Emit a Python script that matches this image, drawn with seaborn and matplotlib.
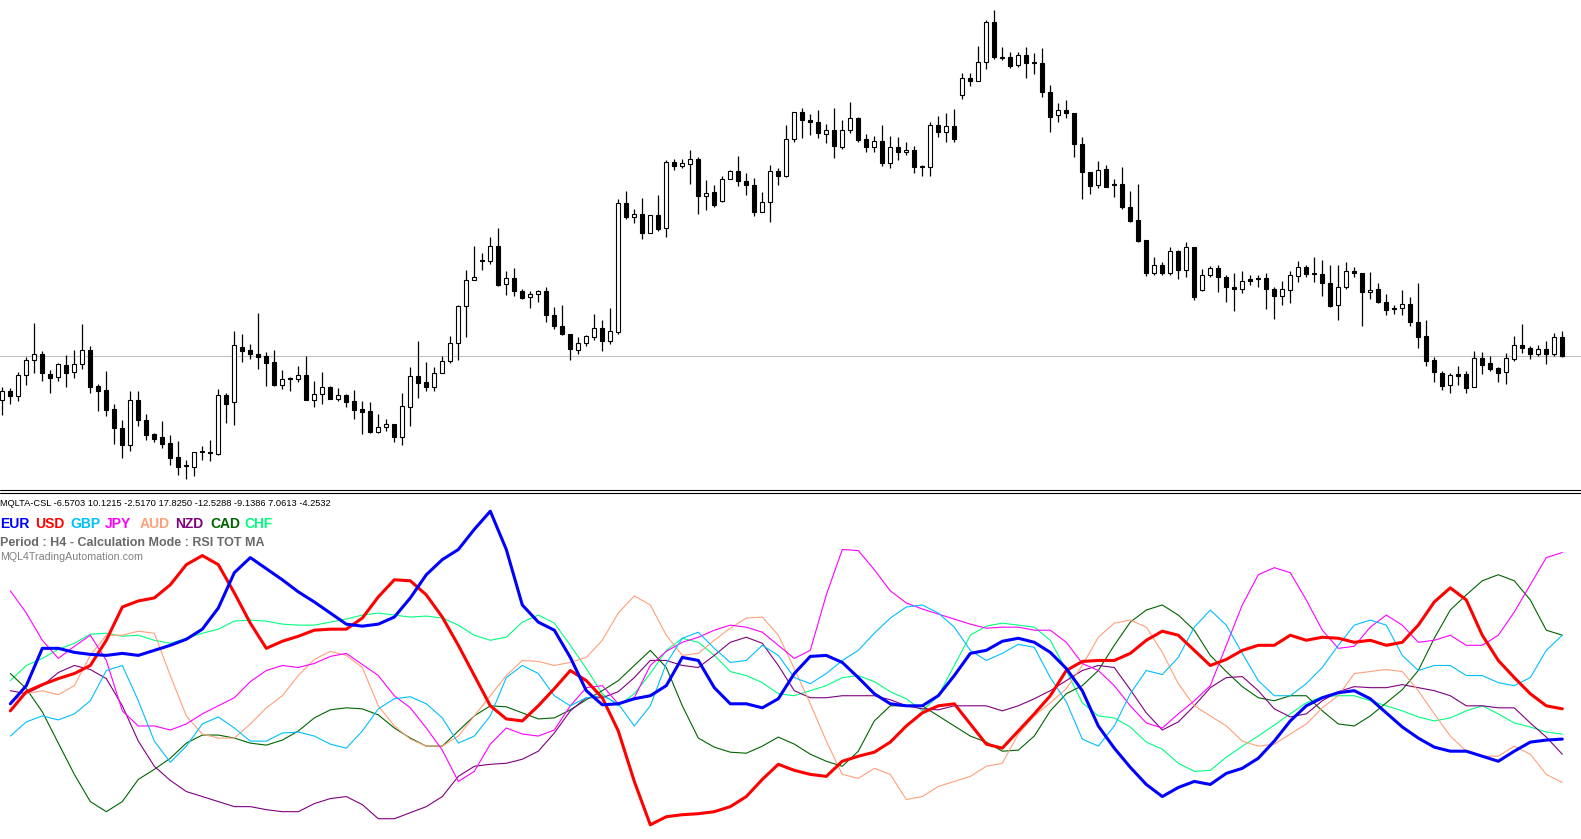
import numpy as np
import pandas as pd
import matplotlib
matplotlib.use("Agg")
import matplotlib.pyplot as plt
from matplotlib.lines import Line2D
import seaborn as sns

# ---------------- price candles (H4), arbitrary price units ----------------
opens = [100,109,104,125,140,146,126,123,135,128,
         136,150,114,110,91,72,55,100,80,66,
         63,57,43,35,33,48,47,46,105,98,
         153,150,146,144,138,115,122,121,125,100,
         106,113,101,105,99,91,89,68,73,76,
         63,93,124,118,113,127,139,157,194,220,
         239,239,254,216,222,209,203,206,209,185,
         174,166,150,157,163,172,159,168,297,283,
         286,267,285,272,338,334,336,341,304,308,
         299,321,329,319,315,288,298,329,324,361,
         388,380,378,366,370,353,370,382,361,353,
         359,337,353,348,350,333,333,375,368,374,
         405,422,419,438,478,443,443,435,445,437,
         437,408,385,390,387,356,328,315,331,315,
         316,293,280,260,227,235,227,249,230,253,
         210,225,232,223,213,211,221,222,222,211,
         204,210,224,233,226,226,217,195,213,229,
         227,208,211,198,192,192,196,178,164,140,
         127,115,126,126,113,142,137,132,128,141,
         155,152,146,151,146,163]
highs = [113,112,128,143,177,149,130,137,145,150,
         176,154,116,129,96,80,109,109,86,67,
         79,65,59,40,48,54,60,111,107,169,
         166,156,187,148,150,130,123,134,144,119,
         128,114,112,106,110,99,98,86,81,76,
         107,133,159,138,133,144,164,195,230,254,
         247,263,272,229,232,211,209,210,213,193,
         195,166,163,165,186,180,192,301,309,291,
         302,285,305,340,341,341,350,343,320,315,
         324,330,344,327,322,308,335,332,375,388,
         392,386,390,376,392,380,398,383,366,364,
         375,364,363,358,354,335,378,384,387,391,
         427,427,454,480,490,453,448,448,453,447,
         452,415,397,400,387,363,328,339,335,321,
         333,309,316,260,243,238,253,250,258,253,
         231,234,235,225,227,229,225,225,227,213,
         219,229,239,235,243,240,235,235,238,233,
         227,228,217,206,195,210,203,217,180,143,
         129,127,134,129,149,148,144,133,147,164,
         176,154,155,159,167,169]
lows = [85,96,99,115,127,119,107,119,113,122,
        131,107,89,84,56,42,49,74,60,58,
        52,35,25,21,24,40,39,45,77,75,
        138,141,131,114,114,111,109,118,100,93,
        96,101,99,93,81,66,67,67,69,58,
        55,74,102,109,109,127,137,140,163,220,
        230,236,214,205,204,201,192,198,178,171,
        165,140,146,154,160,149,156,166,281,277,
        261,267,269,263,330,332,316,286,290,293,
        298,321,314,305,284,288,278,315,323,358,
        362,365,362,357,342,351,367,358,348,348,
        334,332,340,345,327,324,324,363,358,358,
        401,414,419,431,441,440,432,433,422,426,
        403,368,378,382,343,301,306,312,313,303,
        291,278,258,224,225,225,225,221,223,200,
        209,223,208,198,189,207,215,213,191,181,
        195,197,218,223,218,204,193,180,211,223,
        174,201,197,185,186,185,174,152,134,118,
        110,107,115,107,113,126,129,118,116,139,
        147,141,144,136,144,143]
closes = [109,104,125,140,146,127,122,136,127,136,
          150,113,109,90,72,55,100,80,65,61,
          56,42,33,34,48,48.5,47.5,105,96,155,
          149,146,143,137,115,121,121,125,100,106,
          113,101,105,98,90,88,68,73,76,63,
          94,124,117,113,127,139,157,194,220,223,
          239.5,254,215,222,209,202,206,209,185,174,
          166,151,157,164,172,159,169,297,283,286,
          267,285,271,338,334,337,341,304,307,295,
          321,329,319,315,288,298,329,324,361,388,
          380,378,367,370,354,370,382,360,353,359,
          337,353,348,350,333,333.5,375,368,374,361,
          422,419,438,478,443,442.5,434,445,437,437.5,
          408,383,390,387,356,328,314,330,313,315,
          293,279,259,227,235,227,249,230,253,203,
          225,232,223,213,211,219,219,221,211,204,
          211,225,233,226,226.5,217,194,213,229,227,
          208,210,198,190,191,196,178,163,139,128,
          114,125,124,112,142,135,131,127,142,155,
          152,146,151,146,163,144]

# ---------------- currency strength indicator (sampled every 2 bars) ----------------
sample_bars = list(range(1, 196, 2))
currencies = ["EUR", "USD", "GBP", "JPY", "AUD", "NZD", "CAD", "CHF"]
eur = [-1.8,0.0,3.7,3.7,3.3,3.1,3.0,3.2,3.0,3.5,
       4.0,4.6,5.6,7.7,11.2,12.7,11.6,10.5,9.3,8.3,
       7.2,6.1,5.9,6.1,6.8,8.7,11.0,12.5,13.5,15.5,
       17.3,13.5,8.0,6.3,5.5,2.8,-0.5,-1.9,-1.8,-1.3,
       -1.0,0.0,2.8,2.5,-0.2,-1.8,-1.8,-2.2,-1.3,1.2,
       2.9,3.0,2.3,0.8,-0.8,-1.8,-2.0,-2.0,-1.0,1.0,
       3.2,3.5,4.4,4.7,4.3,3.3,1.7,-0.5,-4.0,-6.2,
       -8.1,-9.8,-11.0,-10.1,-9.5,-9.8,-8.7,-8.2,-7.2,-5.5,
       -3.5,-2.0,-1.2,-0.7,-0.5,-1.3,-2.7,-4.1,-5.2,-6.1,
       -6.5,-6.5,-7.0,-7.5,-6.5,-5.6,-5.4,-5.3]
usd = [-2.5,-0.6,0.1,0.7,1.2,2.0,4.5,7.8,8.4,8.7,
       10.0,12.0,12.9,12.0,9.2,6.2,3.7,4.4,4.9,5.5,
       5.6,5.6,6.7,8.8,10.5,10.4,9.0,6.8,4.0,1.0,
       -2.0,-3.3,-3.5,-2.0,-0.3,1.5,0.5,-1.2,-4.5,-9.5,
       -13.8,-13.0,-12.8,-12.7,-12.5,-12.0,-11.0,-9.3,-7.8,-8.4,
       -8.8,-9.0,-7.5,-7.0,-6.6,-5.6,-4.0,-2.7,-2.0,-1.8,
       -3.8,-5.8,-6.2,-4.5,-2.8,-1.0,1.5,2.4,2.5,2.5,
       3.2,4.5,5.4,5.0,3.5,2.0,2.6,3.5,4.0,4.0,
       5.0,4.5,4.8,4.7,4.3,4.5,4.0,4.3,6.0,8.3,
       9.7,8.5,5.0,2.5,0.8,-0.8,-2.0,-2.3]
gbp = [-5.0,-3.6,-3.0,-3.4,-2.8,-1.5,1.5,2.0,-1.5,-5.5,
       -7.6,-6.0,-3.8,-3.1,-4.2,-5.5,-5.5,-4.7,-4.6,-5.0,
       -5.8,-6.2,-4.5,-2.3,-1.3,-1.1,-1.8,-3.2,-5.7,-5.0,
       -3.0,0.8,2.0,1.2,-1.0,-2.0,-1.2,-1.0,-1.8,-4.0,
       -2.0,2.2,4.7,5.3,3.7,2.3,2.5,4.0,3.0,0.8,
       0.2,1.2,2.5,3.5,5.2,6.7,7.8,8.0,7.2,5.8,
       3.5,2.5,3.2,4.1,3.8,0.8,-1.6,-5.3,-6.0,-4.0,
       -0.8,1.5,1.1,2.8,5.8,7.5,6.0,3.2,0.5,-1.0,
       -1.0,0.2,1.8,4.0,6.0,6.5,6.0,3.0,1.5,2.0,
       2.0,1.0,1.0,0.3,0.0,0.8,3.5,5.0]
jpy = [9.4,7.2,4.5,2.7,3.9,5.0,2.5,-2.5,-4.0,-4.0,
       -4.4,-3.8,-2.8,-2.0,-1.2,0.4,1.5,2.0,1.8,2.2,
       2.9,3.2,2.1,1.0,-1.0,-2.2,-4.2,-6.4,-9.5,-8.5,
       -5.8,-4.2,-4.8,-5.0,-4.4,-2.0,-0.2,0.0,-1.8,-1.2,
       2.0,3.4,4.3,4.8,5.5,6.0,5.8,5.3,4.0,2.7,
       3.5,9.0,13.5,13.4,11.5,9.4,8.2,7.6,7.1,6.6,
       6.1,5.7,5.8,5.8,5.5,5.5,4.3,2.2,1.5,0.0,
       -2.0,-3.7,-4.2,-2.8,-1.5,0.0,4.0,8.0,11.0,11.7,
       11.2,8.5,5.5,3.7,3.9,5.8,7.0,6.0,4.3,4.5,
       5.0,4.0,4.0,5.0,7.3,10.0,12.7,13.2]
aud = [-1.6,-0.8,-0.5,-0.9,0.0,3.0,5.0,5.0,5.4,5.2,
       1.0,-3.0,-4.8,-5.2,-5.2,-3.8,-2.2,-1.0,1.0,2.6,
       3.4,3.0,1.8,-2.0,-4.0,-5.3,-6.0,-6.0,-5.0,-3.0,
       -1.0,1.0,2.5,2.4,2.0,2.3,2.8,4.5,7.2,8.9,
       8.0,5.0,3.0,3.2,4.5,5.7,6.7,6.8,5.0,1.7,
       -1.8,-5.5,-8.8,-9.2,-8.2,-8.8,-11.3,-11.0,-10.0,-9.5,
       -9.0,-8.0,-7.7,-4.8,-3.0,-1.7,-0.3,2.0,4.8,6.2,
       6.5,5.8,3.3,0.2,-2.0,-3.0,-4.0,-5.5,-6.0,-5.8,
       -4.8,-3.8,-2.2,-1.0,1.2,1.4,1.6,1.4,-0.5,-2.8,
       -5.0,-6.5,-7.0,-7.0,-6.0,-6.8,-8.8,-9.6]
nzd = [-0.5,-0.8,0.0,1.3,2.0,1.6,0.7,-2.0,-5.5,-8.0,
       -9.4,-10.5,-11.0,-11.5,-12.0,-12.0,-12.3,-12.5,-12.5,-11.7,
       -11.2,-11.0,-11.8,-13.2,-13.2,-12.6,-12.0,-11.0,-9.0,-8.0,
       -7.8,-7.7,-7.3,-6.5,-4.7,-2.5,-1.2,-1.2,-0.6,0.8,
       2.5,2.5,2.0,1.8,3.0,4.3,4.8,4.2,2.0,-0.5,
       -1.2,-1.2,-1.0,-1.0,-1.0,-1.4,-2.0,-2.3,-2.4,-2.0,
       -2.0,-2.0,-2.5,-2.0,-1.3,-0.5,0.5,1.5,2.0,1.8,
       -0.4,-2.7,-4.4,-3.6,-2.0,-0.2,0.8,0.9,-0.5,-2.3,
       -3.1,-2.8,-1.5,-0.6,-0.1,-0.2,-0.2,0.1,-0.2,-0.5,
       -1.0,-2.0,-2.0,-2.2,-2.2,-3.7,-5.1,-6.8]
cad = [1.2,-0.3,-2.6,-5.7,-8.8,-11.5,-12.5,-11.5,-9.3,-8.3,
       -7.2,-5.7,-4.9,-4.9,-5.2,-5.7,-5.9,-5.4,-4.5,-3.2,
       -2.4,-2.2,-2.3,-2.9,-4.2,-5.2,-6.0,-6.0,-4.5,-3.0,
       -2.0,-2.1,-2.7,-3.3,-3.2,-2.4,-1.4,-0.5,0.5,2.0,
       3.5,1.8,-2.0,-5.2,-6.1,-6.6,-6.7,-6.0,-5.1,-5.8,
       -6.8,-7.5,-8.0,-6.5,-3.5,-2.0,-2.0,-2.0,-3.0,-4.0,
       -5.0,-5.6,-6.5,-6.4,-5.0,-2.5,-0.8,0.0,1.5,4.0,
       6.3,7.5,8.0,7.0,5.5,3.0,1.4,-0.1,-1.2,-1.5,
       -1.0,-1.0,-2.5,-3.8,-4.0,-3.0,-1.7,-0.4,1.5,4.7,
       7.5,9.0,10.4,11.0,10.4,8.5,5.5,5.0]
chf = [0.5,2.0,2.7,3.6,4.2,5.1,5.2,4.9,5.0,4.5,
       4.2,4.7,5.2,5.6,6.4,6.5,6.4,6.1,6.0,6.0,
       6.3,6.6,7.0,7.2,7.0,6.8,6.9,6.7,6.0,5.0,
       4.5,4.8,6.3,7.0,6.2,4.0,1.7,-0.8,-2.0,-0.8,
       1.2,3.5,4.7,4.3,3.0,1.4,1.0,0.3,-0.8,-1.0,
       -0.5,0.0,0.8,1.0,0.4,-0.6,-1.3,-2.5,-1.0,2.0,
       5.0,5.9,6.2,6.0,5.8,4.5,1.5,-1.7,-3.0,-3.2,
       -4.1,-5.6,-6.3,-7.7,-8.5,-8.4,-7.1,-6.0,-5.0,-3.9,
       -2.8,-1.7,-1.1,-1.0,-1.0,-1.5,-2.0,-2.5,-3.1,-3.5,
       -3.2,-2.5,-2.0,-2.8,-3.7,-4.1,-4.6,-4.8]
header_values = ["-6.5703", "10.1215", "-2.5170", "17.8250",
                 "-12.5288", "-9.1386", "7.0613", "-4.2532"]
indicator_name = "MQLTA-CSL"
info_line = "Period : H4 - Calculation Mode : RSI TOT MA"
site_line = "MQL4TradingAutomation.com"

# ---------------- styling ----------------
cur_colors = {"EUR": "#0000FF", "USD": "#FF0000", "GBP": "#00BFFF", "JPY": "#FF00FF",
              "AUD": "#FFA07A", "NZD": "#800080", "CAD": "#006400", "CHF": "#00FF7F"}
cur_widths = {"EUR": 2.2, "USD": 2.2}

sns.set_style("white")
plt.rcParams["font.family"] = ["Liberation Sans", "DejaVu Sans"]

W, H = 1581, 839
fig = plt.figure(figsize=(W / 100, H / 100), dpi=100)
fig.patch.set_facecolor("white")

def fy(px):
    return 1 - px / H

top_bottom_px = 489.5
ax1 = fig.add_axes([0, fy(top_bottom_px), 1, top_bottom_px / H])
ax2 = fig.add_axes([0, 0, 1, fy(493)])

# candles
n = len(opens)
x = np.arange(n)
o = np.array(opens, float); c = np.array(closes, float)
hi = np.array(highs, float); lo = np.array(lows, float)
bull = c > o
body_lo = np.minimum(o, c)
body_h = np.maximum(np.abs(c - o), 0.6)
ax1.axhline(c[-1], color="#C0C0C0", lw=0.8, zorder=0)
ax1.vlines(x, lo, hi, color="black", linewidth=0.9, zorder=1)
ax1.bar(x, body_h, bottom=body_lo, width=0.5,
        color=np.where(bull, "white", "black"), edgecolor="black",
        linewidth=0.8, zorder=2)
xlim = (-0.29, 197.34)
ax1.set_xlim(*xlim)
ax1.set_ylim(500 - top_bottom_px, 500)
ax1.set_axis_off()

# indicator lines
series = dict(EUR=eur, USD=usd, GBP=gbp, JPY=jpy, AUD=aud, NZD=nzd, CAD=cad, CHF=chf)
frames = []
for cur in currencies:
    frames.append(pd.DataFrame({"bar": sample_bars, "value": series[cur], "currency": cur}))
df = pd.concat(frames, ignore_index=True)
for cur in currencies[::-1][:6] + ["USD", "EUR"]:
    sub = df[df["currency"] == cur]
    sns.lineplot(data=sub, x="bar", y="value", color=cur_colors[cur],
                 linewidth=cur_widths.get(cur, 0.8), ax=ax2, legend=False,
                 estimator=None, sort=True)
ax2.set_xlim(*xlim)
ax2.set_ylim(68 - 839 / 10.083, 68 - 493 / 10.083)
ax2.set_axis_off()

# window separator (double line)
for ypx in (490.3, 492.5):
    fig.add_artist(Line2D([0, 1], [fy(ypx), fy(ypx)], transform=fig.transFigure,
                          color="black", lw=0.8))

# texts
fig.text(0.5 / W, fy(505.8), indicator_name + " " + " ".join(header_values),
         fontsize=6.7, color="black", va="baseline", ha="left")
step = 34.9
for i, cur in enumerate(currencies):
    fig.text((0.5 + i * step) / W, fy(527.8), cur, fontsize=10, fontweight="bold",
             color=cur_colors[cur], va="baseline", ha="left")
fig.text(0.5 / W, fy(546.2), info_line, fontsize=9, fontweight="bold",
         color="#696969", va="baseline", ha="left")
fig.text(0.5 / W, fy(560.0), site_line, fontsize=7.7,
         color="#808080", va="baseline", ha="left")

fig.savefig("out.png", dpi=100, facecolor="white")
